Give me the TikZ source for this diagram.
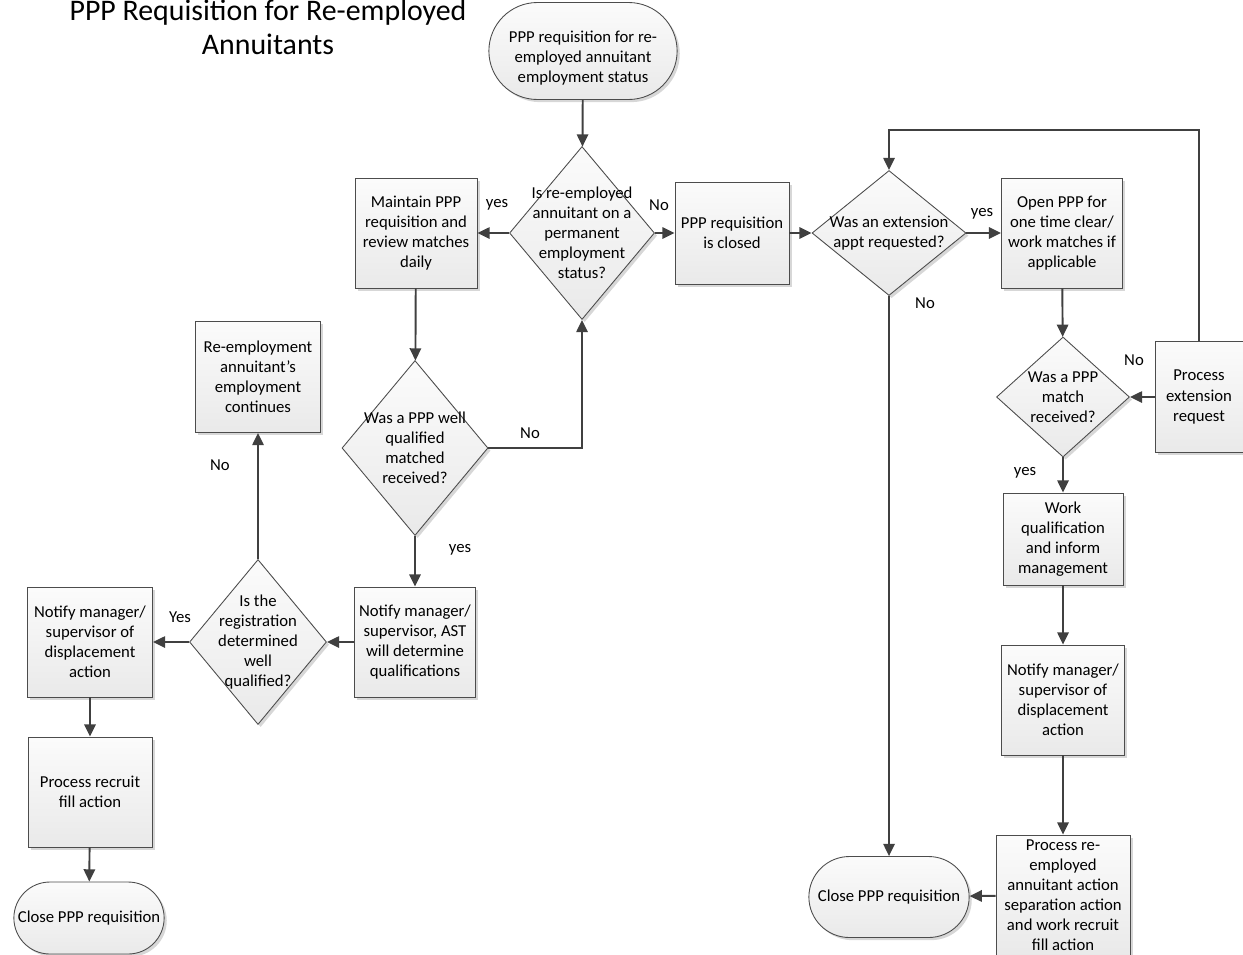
\documentclass[tikz,border=0pt]{standalone}
\usepackage{fontspec}
\setmainfont{Carlito}
\usetikzlibrary{shapes.geometric,shapes.misc,arrows.meta,shadows}

\begin{document}
\begin{tikzpicture}[x=0.02cm, y=-0.02cm,
  font=\fontsize{9.5}{11.4}\selectfont,
  shp/.style={draw=black!70, line width=0.5pt, top color=gray!3, bottom color=gray!17,
    drop shadow={shadow xshift=1.5pt, shadow yshift=-1.5pt, fill=gray!45, opacity=0.7}},
  act/.style={shp, rectangle, align=center, inner sep=1pt},
  term/.style={shp, rounded rectangle, align=center},
  dec/.style={shp, diamond, inner sep=0pt},
  dtxt/.style={align=center, inner sep=0pt},
  lbl/.style={inner sep=1pt},
  arr/.style={draw=black!75, line width=1.1pt, -{Triangle[length=7pt,width=6.5pt]}}]
\useasboundingbox (0,0) rectangle (1243,954);
\node[align=center, font=\fontsize{17}{19.5}\selectfont] (title) at (268,27){PPP Requisition for Re-employed\\Annuitants};
\node[term, minimum width=4cm, minimum height=1.94cm] (term0) at (583,51){};
\node[dtxt] (term0t) at (583,58){PPP requisition for re-\\employed annuitant\\employment status};
\node[dec, minimum width=2.9cm, minimum height=3.46cm] (dec1) at (582,233){};
\node[dtxt] (dec1t) at (dec1){Is re-employed\\annuitant on a\\permanent\\employment\\status?};
\node[act, minimum width=2.44cm, minimum height=2.2cm] (act1) at (416,233){Maintain PPP\\requisition and\\review matches\\daily};
\node[act, minimum width=2.28cm, minimum height=2.04cm] (act2) at (732,233){PPP requisition\\is closed};
\node[dec, minimum width=3.08cm, minimum height=2.5cm] (dec2) at (889,233){};
\node[dtxt] (dec2t) at (dec2){Was an extension\\appt requested?};
\node[act, minimum width=2.42cm, minimum height=2.2cm] (act3) at (1062,233){Open PPP for\\one time clear/\\work matches if\\applicable};
\node[dec, minimum width=2.66cm, minimum height=2.4cm] (dec3) at (1063,397){};
\node[dtxt] (dec3t) at (dec3){Was a PPP\\match\\received?};
\node[act, minimum width=1.76cm, minimum height=2.22cm] (act4) at (1199,397){Process\\extension\\request};
\node[act, minimum width=2.4cm, minimum height=1.84cm] (act5) at (1063,539){Work\\qualification\\and inform\\management};
\node[act, minimum width=2.46cm, minimum height=2.2cm] (act6) at (1063,700){Notify manager/\\supervisor of\\displacement\\action};
\node[act, minimum width=2.68cm, minimum height=2.4cm] (act7) at (1063,895){Process re-\\employed\\annuitant action\\separation action\\and work recruit\\fill action};
\node[term, minimum width=3.44cm, minimum height=1.62cm] (term1) at (889,897){Close PPP requisition};
\node[dec, minimum width=2.92cm, minimum height=3.5cm] (dec4) at (415,448){};
\node[dtxt] (dec4t) at (dec4){Was a PPP well\\qualified\\matched\\received?};
\node[act, minimum width=2.42cm, minimum height=2.2cm] (act8) at (415,642){Notify manager/\\supervisor, AST\\will determine\\qualifications};
\node[dec, minimum width=2.74cm, minimum height=3.3cm] (dec5) at (258,642){};
\node[dtxt] (dec5t) at (dec5){Is the\\registration\\determined\\well\\qualified?};
\node[act, minimum width=2.5cm, minimum height=2.22cm] (act9) at (258,377){Re-employment\\annuitant’s\\employment\\continues};
\node[act, minimum width=2.5cm, minimum height=2.2cm] (act10) at (90,642){Notify manager/\\supervisor of\\displacement\\action};
\node[act, minimum width=2.48cm, minimum height=2.2cm] (act11) at (90,792){Process recruit\\fill action};
\node[term, minimum width=3.24cm, minimum height=1.44cm] (term2) at (89,918){Close PPP requisition};
% connectors
\draw[arr](term0) -- (dec1);
\draw[arr](dec1) -- (act1);
\draw[arr](dec1) -- (act2);
\draw[arr](act2) -- (dec2);
\draw[arr](dec2) -- (act3);
\draw[arr](dec2) -- (term1);
\draw[arr](act3) -- (dec3);
\draw[arr](act4) -- (dec3);
\draw[arr](act4.north) -- ++(0,-211) -| (dec2.north);
\draw[arr](dec3) -- (act5);
\draw[arr](act5) -- (act6);
\draw[arr](act6) -- (act7);
\draw[arr](act7) -- (term1);
\draw[arr](act1) -- (dec4);
\draw[arr](dec4.east) -| (dec1.south);
\draw[arr](dec4) -- (act8);
\draw[arr](act8) -- (dec5);
\draw[arr](dec5) -- (act10);
\draw[arr](dec5) -- (act9);
\draw[arr](act10) -- (act11);
\draw[arr](act11) -- (term2);
% labels
\node[lbl] (lab1) at (497,205){yes};
\node[lbl] (lab2) at (659,205){No};
\node[lbl] (lab3) at (982,214){yes};
\node[lbl] (lab4) at (925,303){No};
\node[lbl] (lab5) at (1134,360){No};
\node[lbl] (lab6) at (1025,473){yes};
\node[lbl] (lab7) at (530,433){No};
\node[lbl] (lab8) at (460,550){yes};
\node[lbl] (lab9) at (180,617){Yes};
\node[lbl] (lab10) at (220,465){No};
\end{tikzpicture}
\end{document}
